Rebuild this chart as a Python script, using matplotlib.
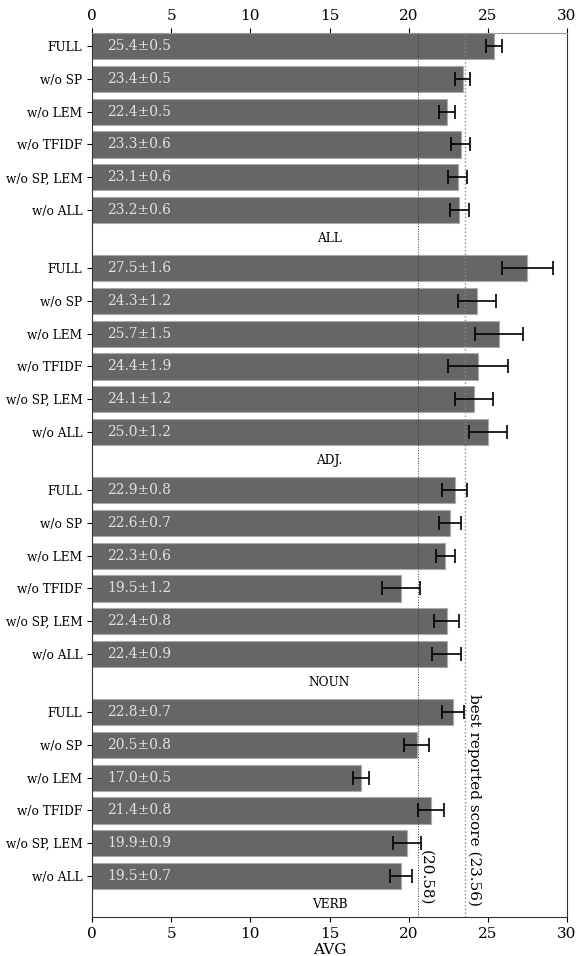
import matplotlib
matplotlib.use("Agg")
import matplotlib.pyplot as plt
import numpy as np

groups = ["ALL", "ADJ.", "NOUN", "VERB"]
variants = ["FULL", "w/o SP", "w/o LEM", "w/o TFIDF", "w/o SP, LEM", "w/o ALL"]
means = {
    "ALL":  [25.4, 23.4, 22.4, 23.3, 23.1, 23.2],
    "ADJ.": [27.5, 24.3, 25.7, 24.4, 24.1, 25.0],
    "NOUN": [22.9, 22.6, 22.3, 19.5, 22.4, 22.4],
    "VERB": [22.8, 20.5, 17.0, 21.4, 19.9, 19.5],
}
errs = {
    "ALL":  [0.5, 0.5, 0.5, 0.6, 0.6, 0.6],
    "ADJ.": [1.6, 1.2, 1.5, 1.9, 1.2, 1.2],
    "NOUN": [0.8, 0.7, 0.6, 1.2, 0.8, 0.9],
    "VERB": [0.7, 0.8, 0.5, 0.8, 0.9, 0.7],
}
ref_lines = [20.58, 23.56]
xticks = [0, 5, 10, 15, 20, 25, 30]

fig = plt.figure(figsize=(5.77, 9.56), dpi=100)
ax = fig.add_axes([92/577, 1-917/956, (567-92)/577, (917-33)/956])

gstep = 6.77
ypos, ylabels, vals, es = [], [], [], []
for g, name in enumerate(groups):
    for i, v in enumerate(variants):
        ypos.append(g*gstep + i)
        ylabels.append(v)
        vals.append(means[name][i])
        es.append(errs[name][i])

ax.barh(ypos, vals, height=0.8, color="#666666", edgecolor="#aaaaaa", linewidth=0.8, zorder=2)
ax.errorbar(vals, ypos, xerr=es, fmt="none", ecolor="black", elinewidth=1.2,
            capsize=5, capthick=1.2, zorder=4)
for y, v, e in zip(ypos, vals, es):
    ax.text(0.95, y, f"{v:.1f}\u00b1{e:.1f}", color="#e0e0e0", fontsize=10,
            va="center", ha="left", family="DejaVu Serif", zorder=5)

for g, name in enumerate(groups):
    ax.text(15, g*gstep + 5.87, name, ha="center", va="center", fontsize=8.7,
            family="DejaVu Serif", zorder=5)

ax.axvline(ref_lines[0], color="#333333", linestyle=":", linewidth=0.7, zorder=3)
ax.axvline(ref_lines[1], color="#888888", linestyle=":", linewidth=1.0, zorder=3)

ybot = 3*gstep + 5 + 1.25
ax.text(ref_lines[1] + 0.1, ybot - 0.35, f"best reported score ({ref_lines[1]:.2f})",
        rotation=270, ha="left", va="bottom", fontsize=11, family="DejaVu Serif", zorder=5)
ax.text(ref_lines[0] + 0.1, ybot - 0.35, f"({ref_lines[0]:.2f})",
        rotation=270, ha="left", va="bottom", fontsize=11, family="DejaVu Serif", zorder=5)

ax.set_ylim(ybot, -0.4)
ax.set_xlim(0, 30)
ax.set_yticks(ypos)
ax.set_yticklabels(ylabels, family="DejaVu Serif", fontsize=8.7)
ax.set_xticks(xticks)
ax.set_xticklabels([str(t) for t in xticks], family="DejaVu Serif", fontsize=11)
ax.tick_params(axis="x", top=True, labeltop=True, length=3.5, width=0.8)
ax.tick_params(axis="y", length=3.5, width=0.8)
ax.set_xlabel("AVG", family="DejaVu Serif", fontsize=11, labelpad=2)
for s in ["left", "right", "bottom"]:
    ax.spines[s].set_color("#333333")
ax.spines["top"].set_color("#999999")

fig.savefig("out.png", dpi=100)
